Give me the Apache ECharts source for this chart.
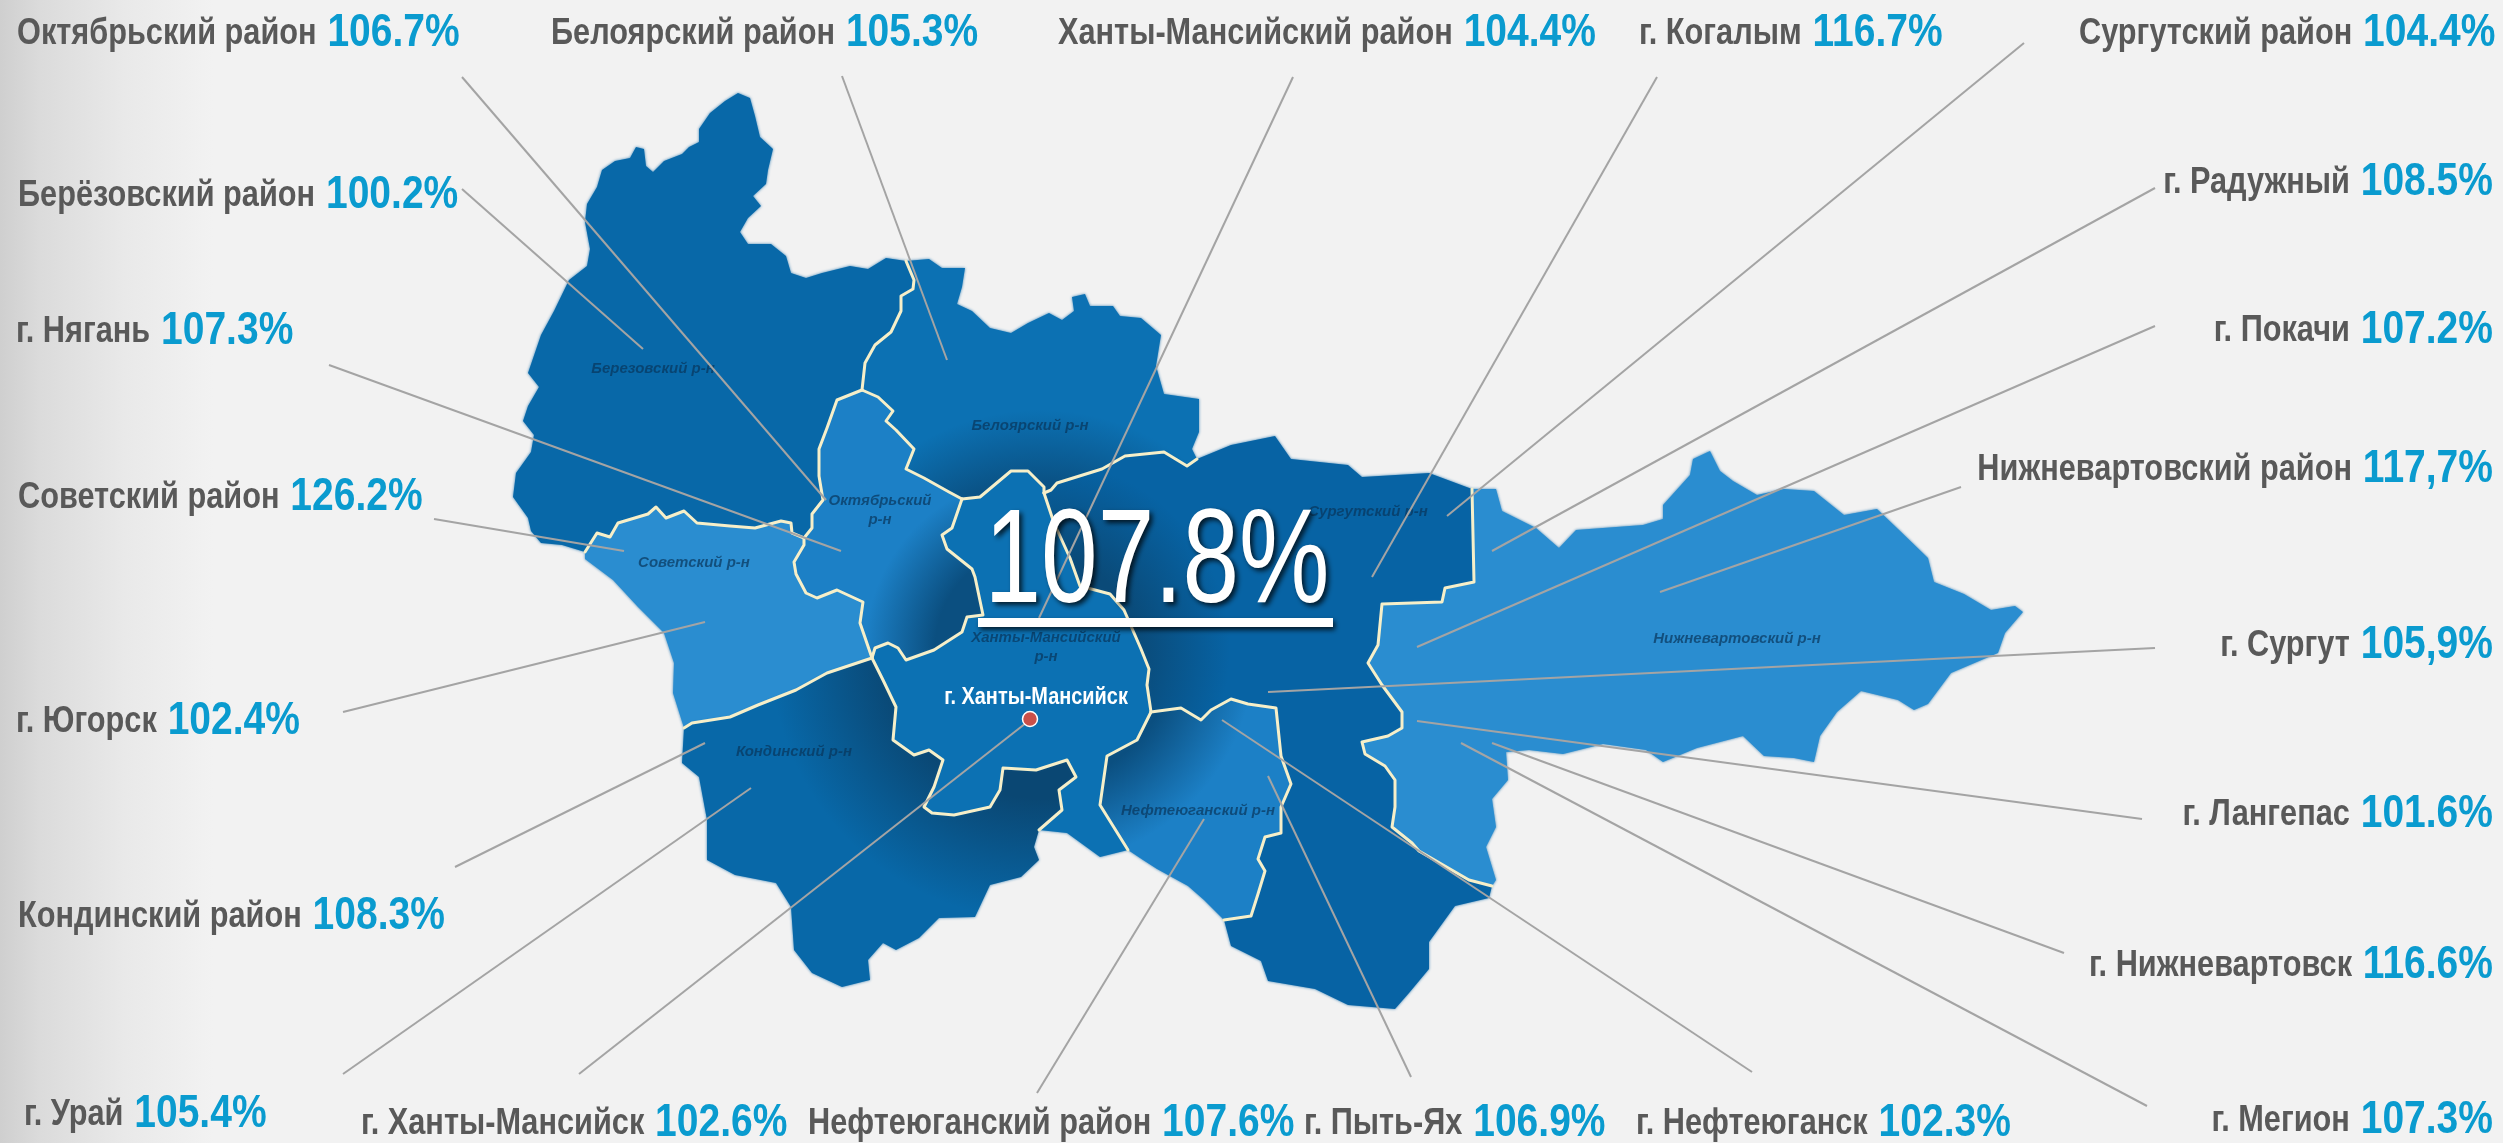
<!DOCTYPE html>
<html>
<head>
<meta charset="utf-8">
<title>ХМАО</title>
<style>
  html, body { margin: 0; padding: 0; background: #f2f2f2; }
  #chart { width: 2503px; height: 1143px; }
</style>
<script src="https://cdn.jsdelivr.net/npm/echarts@6/dist/echarts.min.js"></script>
</head>
<body>
<div id="chart"></div>
<script>
// подписи и значения
const names = ['Октябрьский район', 'Белоярский район', 'Ханты-Мансийский район', 'г. Когалым', 'Сургутский район',
  'Берёзовский район', 'г. Нягань', 'Советский район', 'г. Югорск', 'Кондинский район', 'г. Урай',
  'г. Радужный', 'г. Покачи', 'Нижневартовский район', 'г. Сургут', 'г. Лангепас', 'г. Нижневартовск', 'г. Мегион',
  'г. Ханты-Мансийск', 'Нефтеюганский район', 'г. Пыть-Ях', 'г. Нефтеюганск']
const rates = [106.7, 105.3, 104.4, 116.7, 104.4,
  100.2, 107.3, 126.2, 102.4, 108.3, 105.4,
  108.5, 107.2, 117.7, 105.9, 101.6, 116.6, 107.3,
  102.6, 107.6, 106.9, 102.3]
const commaNames = ['Нижневартовский район', 'г. Сургут'] // в оригинале тут запятая
const totalRate = 107.8

// где стоят подписи: [x, y центра]
const labelPos = [[17, 33], [551, 33], [1058, 33], [1639, 33], [2079, 33],
  [18, 195], [16, 331], [18, 497], [16, 721], [18, 916], [24, 1114],
  [2493, 182], [2493, 330], [2493, 469], [2493, 645], [2493, 814], [2493, 965], [2493, 1120],
  [361, 1123], [808, 1123], [1304, 1123], [1636, 1123]]
const rightAligned = [11, 12, 13, 14, 15, 16, 17]

// выноски: откуда (у подписи) и куда (на карте)
const leaderFrom = [[462, 77], [842, 76], [1293, 77], [1657, 77], [2024, 43],
  [462, 189], [329, 365], [434, 519], [343, 712], [455, 867], [343, 1074],
  [2155, 188], [2155, 326], [1961, 487], [2155, 648], [2142, 819], [2064, 953], [2147, 1106],
  [579, 1074], [1037, 1093], [1411, 1077], [1752, 1072]]
const leaderTo = [[826, 500], [947, 360], [1039, 618], [1372, 577], [1447, 516],
  [643, 349], [841, 551], [624, 551], [705, 622], [705, 743], [751, 788],
  [1492, 551], [1417, 647], [1660, 592], [1268, 692], [1417, 721], [1492, 743], [1461, 743],
  [1026, 723], [1204, 819], [1268, 776], [1222, 720]]

// контуры районов в пикселях картинки
const outerBer = [[585, 552], [562, 545], [541, 543], [531, 531], [528, 518], [513, 497], [516, 473], [531, 452], [534, 435], [523, 421], [528, 406], [539, 387], [528, 373], [541, 335], [554, 311], [569, 280], [587, 266], [590, 249], [585, 222], [587, 204], [597, 187], [602, 170], [615, 161], [630, 158], [636, 147], [644, 149], [646, 166], [653, 172], [664, 161], [682, 154], [689, 147], [699, 142], [699, 129], [710, 113], [725, 101], [738, 93], [750, 98], [755, 116], [760, 137], [773, 149], [768, 170], [766, 184], [753, 196], [761, 206], [748, 218], [740, 232], [748, 244], [771, 244], [786, 256], [791, 273], [806, 278], [822, 273], [850, 266], [868, 269], [886, 258], [906, 261]]
const outerBel = [[906, 261], [929, 259], [942, 268], [965, 268], [962, 287], [957, 304], [972, 311], [990, 328], [1011, 333], [1028, 323], [1049, 313], [1062, 320], [1074, 311], [1072, 297], [1085, 294], [1090, 306], [1113, 306], [1120, 316], [1141, 318], [1161, 335], [1156, 366], [1164, 394], [1199, 399], [1199, 432], [1192, 449], [1197, 459]]
const outerSur1 = [[1197, 459], [1231, 445], [1275, 436], [1291, 459], [1348, 465], [1362, 477], [1429, 473], [1472, 489]]
const outerNiz = [[1472, 489], [1496, 489], [1502, 511], [1536, 528], [1559, 548], [1576, 530], [1643, 525], [1663, 519], [1663, 505], [1690, 475], [1693, 459], [1710, 451], [1720, 471], [1733, 481], [1757, 495], [1784, 489], [1814, 491], [1844, 515], [1877, 509], [1898, 529], [1928, 558], [1934, 582], [1964, 594], [1991, 610], [2015, 606], [2023, 612], [2005, 633], [1998, 653], [1951, 673], [1928, 704], [1914, 710], [1898, 700], [1861, 691], [1837, 712], [1820, 736], [1814, 762], [1794, 758], [1764, 756], [1743, 736], [1697, 748], [1663, 762], [1646, 750], [1603, 744], [1563, 754], [1529, 750], [1506, 752], [1508, 780], [1492, 799], [1496, 827], [1486, 847], [1496, 880], [1492, 886]]
const outerSur2 = [[1492, 886], [1489, 898], [1455, 906], [1429, 942], [1429, 969], [1409, 993], [1395, 1009], [1348, 1005], [1315, 989], [1268, 981], [1261, 961], [1231, 946], [1224, 920]]
const outerNef = [[1224, 920], [1204, 900], [1188, 886], [1157, 869], [1143, 860], [1128, 850]]
const outerKm = [[1039, 830], [1067, 833], [1100, 857], [1128, 850]]
const outerKon = [[1039, 830], [1034, 847], [1039, 860], [1021, 877], [990, 885], [975, 917], [939, 918], [919, 938], [896, 950], [883, 943], [868, 960], [870, 980], [842, 987], [812, 973], [794, 950], [791, 907], [776, 883], [735, 875], [707, 860], [707, 820], [699, 777], [682, 763], [684, 728]]
const outerSov = [[684, 728], [673, 693], [674, 663], [664, 633], [638, 607], [613, 580], [585, 559], [585, 552]]

const edgeBerBel = [[906, 261], [914, 280], [913, 289], [901, 296], [901, 311], [891, 332], [875, 345], [865, 363], [862, 390]]
const edgeBerOkt = [[862, 390], [837, 400], [827, 428], [819, 449], [819, 476], [823, 500], [812, 514], [812, 528], [804, 538]]
const edgeSovTop = [[585, 552], [597, 533], [610, 537], [618, 523], [648, 514], [656, 507], [666, 518], [684, 511], [697, 523], [730, 526], [755, 528], [781, 521], [791, 523], [792, 533], [804, 538]]
const edgeSovOkt = [[804, 538], [804, 545], [794, 562], [796, 574], [806, 593], [817, 598], [837, 590], [863, 602], [860, 623], [872, 658]]
const edgeSovKon = [[872, 658], [827, 673], [796, 690], [758, 705], [730, 717], [692, 723], [684, 728]]
const edgeOktKm = [[872, 658], [875, 648], [888, 643], [898, 648], [906, 660], [934, 650], [962, 632], [967, 617], [983, 615], [975, 577], [972, 569], [947, 549], [942, 535], [952, 528], [962, 499]]
const edgeOktBel = [[962, 499], [949, 492], [924, 478], [906, 469], [914, 449], [896, 430], [886, 421], [893, 411], [878, 397], [862, 390]]
const edgeKmBel = [[962, 499], [980, 497], [1011, 471], [1028, 471], [1044, 487], [1044, 493]]
const edgeBelSur = [[1044, 493], [1051, 490], [1057, 483], [1102, 469], [1125, 456], [1164, 452], [1187, 466], [1197, 459]]
const edgeKmSur = [[1044, 493], [1054, 523], [1070, 558], [1080, 586], [1110, 594], [1124, 610], [1141, 649], [1149, 669], [1147, 685], [1151, 712]]
const edgeKmNef = [[1151, 712], [1137, 740], [1107, 756], [1100, 805], [1128, 850]]
const edgeKmKon = [[872, 658], [883, 680], [896, 707], [893, 740], [914, 755], [929, 750], [943, 760], [934, 787], [924, 807], [932, 813], [954, 815], [990, 807], [1000, 790], [1003, 768], [1036, 770], [1067, 760], [1076, 777], [1059, 790], [1062, 810], [1039, 830]]
const edgeNefSur = [[1224, 920], [1251, 916], [1258, 894], [1265, 871], [1258, 859], [1265, 837], [1281, 833], [1281, 807], [1291, 784], [1281, 756], [1276, 708], [1248, 704], [1231, 699], [1211, 710], [1201, 720], [1181, 708], [1151, 712]]
const edgeSurNiz = [[1472, 489], [1474, 582], [1445, 588], [1442, 602], [1382, 604], [1378, 645], [1368, 663], [1382, 685], [1402, 712], [1402, 728], [1388, 736], [1362, 742], [1365, 754], [1385, 766], [1395, 780], [1395, 807], [1392, 827], [1412, 843], [1419, 851], [1469, 880], [1492, 886]]

const rev = a => a.slice().reverse()
const ring = (...parts) => {
  const pts = parts.flat()
  return pts.concat([pts[0]])
}

const regions = {
  'Берёзовский': ring(outerBer, edgeBerBel, edgeBerOkt, rev(edgeSovTop)),
  'Белоярский': ring(outerBel, rev(edgeBelSur), rev(edgeKmBel), edgeOktBel, rev(edgeBerBel)),
  'Октябрьский': ring(edgeBerOkt, edgeSovOkt, edgeOktKm, edgeOktBel),
  'Советский': ring(edgeSovTop, edgeSovOkt, edgeSovKon, outerSov),
  'Кондинский': ring(rev(edgeSovKon), edgeKmKon, outerKon),
  'Сургутский': ring(outerSur1, edgeSurNiz, outerSur2, edgeNefSur, rev(edgeKmSur), edgeBelSur),
  'Нефтеюганский': ring(edgeKmNef, rev(outerNef), edgeNefSur),
  'Нижневартовский': ring(outerNiz, rev(edgeSurNiz)),
  'Ханты-Мансийский': ring(edgeKmSur, edgeKmNef, rev(outerKm), rev(edgeKmKon), edgeOktKm, edgeKmBel)
}
const innerEdges = [edgeBerBel, edgeBerOkt, edgeSovTop, edgeSovOkt, edgeSovKon, edgeOktKm, edgeOktBel, edgeKmBel,
  edgeBelSur, edgeKmSur, edgeKmNef, edgeKmKon, edgeNefSur, edgeSurNiz]

// тёмное свечение вокруг центрального района
const glow = (base, dark, r, inner) => ({
  type: 'radial', x: 1040, y: 650, r, global: true,
  colorStops: [{ offset: 0, color: dark }, { offset: inner, color: dark }, { offset: 1, color: base }]
})
const regionFill = {
  'Берёзовский': '#0868a8',
  'Белоярский': glow('#0c71b3', '#0a5285', 240, 0.7),
  'Октябрьский': glow('#1c80c6', '#0b4f80', 175, 0.6),
  'Советский': '#2a8dd0',
  'Кондинский': glow('#0868a8', '#0a4773', 270, 0.55),
  'Сургутский': glow('#0763a4', '#0a4a78', 190, 0.5),
  'Нефтеюганский': glow('#1c80c6', '#0b4f80', 215, 0.62),
  'Нижневартовский': '#2a8dd0',
  'Ханты-Мансийский': '#0c71b3'
}

// подписи районов на самой карте
const mapNames = ['Березовский р-н', 'Белоярский р-н', 'Октябрьский\nр-н', 'Советский р-н', 'Ханты-Мансийский\nр-н', 'Сургутский р-н', 'Нижневартовский р-н', 'Кондинский р-н', 'Нефтеюганский р-н']
const mapNamePos = [[653, 369], [1030, 426], [880, 510], [694, 563], [1046, 647], [1368, 512], [1737, 639], [794, 752], [1198, 811]]

const capital = 'г. Ханты-Мансийск'
const capitalPos = [1030, 719]
const capitalLabelPos = [1036, 697]
const totalPos = [1157, 565]

const FONT = '"Liberation Sans", Arial, sans-serif'
const NARROW = 0.83 // шрифт в оригинале узкий, сжимаем по ширине

const rateText = (name, v) => {
  const s = v.toFixed(1) + '%'
  return commaNames.includes(name) ? s.replace('.', ',') : s
}

echarts.registerMap('ugra', {
  type: 'FeatureCollection',
  features: Object.keys(regions).map(name => ({
    type: 'Feature',
    properties: { name },
    geometry: { type: 'Polygon', coordinates: [regions[name]] }
  }))
})

const chart = echarts.init(document.getElementById('chart'), null, { renderer: 'canvas' })

// подпись "название + значение"
function renderRate(params, api) {
  const i = params.dataIndex
  const pt = api.coord([api.value(0), api.value(1)])
  return {
    type: 'text',
    x: pt[0],
    y: pt[1],
    scaleX: NARROW,
    style: {
      text: `{n|${names[i]}}{v|\u00a0${rateText(names[i], api.value(2))}}`,
      align: rightAligned.includes(i) ? 'right' : 'left',
      verticalAlign: 'middle',
      rich: {
        n: { fontFamily: FONT, fontWeight: 'bold', fontSize: 37, fill: '#595959', verticalAlign: 'bottom', padding: [0, 0, 4, 0] },
        v: { fontFamily: FONT, fontWeight: 'bold', fontSize: 47, fill: '#0a9bcf', verticalAlign: 'bottom' }
      }
    }
  }
}

chart.setOption({
  animation: false,
  backgroundColor: {
    type: 'linear', x: 0, y: 0, x2: 1, y2: 0,
    colorStops: [{ offset: 0, color: '#cfcfcf' }, { offset: 0.016, color: '#dbdbdb' }, { offset: 0.05, color: '#e9e9e9' }, { offset: 0.085, color: '#f2f2f2' }, { offset: 1, color: '#f2f2f2' }]
  },
  geo: {
    map: 'ugra',
    projection: { project: p => p, unproject: p => p },
    boundingCoords: [[0, 0], [2503, 1143]],
    left: 0, top: 0, width: 2503, height: 1143,
    roam: false,
    silent: true,
    label: { show: false },
    itemStyle: { borderWidth: 0, shadowBlur: 3, shadowColor: 'rgba(8,100,165,0.8)' },
    emphasis: { disabled: true },
    regions: Object.keys(regionFill).map(name => ({
      name,
      itemStyle: { areaColor: regionFill[name], borderWidth: 0 }
    }))
  },
  graphic: [{
    type: 'rect',
    z: 50,
    shape: { x: 978, y: 618, width: 355, height: 9 },
    style: { fill: '#fff', shadowBlur: 5, shadowColor: 'rgba(0,0,0,0.75)', shadowOffsetX: 2, shadowOffsetY: 3 }
  }],
  series: [
    {
      // белые границы между районами
      type: 'lines',
      coordinateSystem: 'geo',
      polyline: true,
      silent: true,
      z: 3,
      lineStyle: { color: '#f6efc9', width: 3, opacity: 1, cap: 'round', join: 'round' },
      data: innerEdges.map(coords => ({ coords }))
    },
    {
      // выноски
      type: 'lines',
      coordinateSystem: 'geo',
      silent: true,
      z: 4,
      lineStyle: { color: '#a4a4a4', width: 2, opacity: 1 },
      data: leaderFrom.map((from, i) => ({ coords: [from, leaderTo[i]] }))
    },
    {
      // названия районов на карте
      type: 'custom',
      coordinateSystem: 'geo',
      silent: true,
      z: 3,
      data: mapNamePos,
      renderItem(params, api) {
        const pt = api.coord([api.value(0), api.value(1)])
        return {
          type: 'text',
          x: pt[0],
          y: pt[1],
          style: {
            text: mapNames[params.dataIndex],
            align: 'center',
            verticalAlign: 'middle',
            fontFamily: FONT,
            fontStyle: 'italic',
            fontWeight: 'bold',
            fontSize: 15,
            lineHeight: 19,
            fill: 'rgba(8,52,90,0.7)'
          }
        }
      }
    },
    {
      // главные подписи
      type: 'custom',
      coordinateSystem: 'geo',
      silent: true,
      z: 5,
      data: names.map((name, i) => [labelPos[i][0], labelPos[i][1], rates[i]]),
      renderItem: renderRate
    },
    {
      // столица
      type: 'scatter',
      coordinateSystem: 'geo',
      silent: true,
      z: 6,
      symbol: 'circle',
      symbolSize: 15,
      itemStyle: { color: '#c9504a', borderColor: '#fff', borderWidth: 1.5, opacity: 1 },
      data: [{ name: capital, value: capitalPos }]
    },
    {
      type: 'custom',
      coordinateSystem: 'geo',
      silent: true,
      z: 6,
      data: [capitalLabelPos],
      renderItem(params, api) {
        const pt = api.coord([api.value(0), api.value(1)])
        return {
          type: 'text',
          x: pt[0],
          y: pt[1],
          scaleX: NARROW,
          style: {
            text: capital,
            align: 'center',
            verticalAlign: 'middle',
            fontFamily: FONT,
            fontWeight: 'bold',
            fontSize: 24,
            fill: '#fff'
          }
        }
      }
    },
    {
      // общий показатель
      type: 'custom',
      coordinateSystem: 'geo',
      silent: true,
      z: 7,
      data: [[totalPos[0], totalPos[1], totalRate]],
      renderItem(params, api) {
        const pt = api.coord([api.value(0), api.value(1)])
        return {
          type: 'text',
          x: pt[0],
          y: pt[1],
          scaleX: 0.765,
          style: {
            text: api.value(2).toFixed(1) + '%',
            align: 'center',
            verticalAlign: 'middle',
            fontFamily: FONT,
            fontSize: 133,
            fill: '#fff',
            textShadowColor: 'rgba(0,0,0,0.75)',
            textShadowBlur: 5,
            textShadowOffsetX: 3,
            textShadowOffsetY: 3
          }
        }
      }
    }
  ]
})
</script>
</body>
</html>
